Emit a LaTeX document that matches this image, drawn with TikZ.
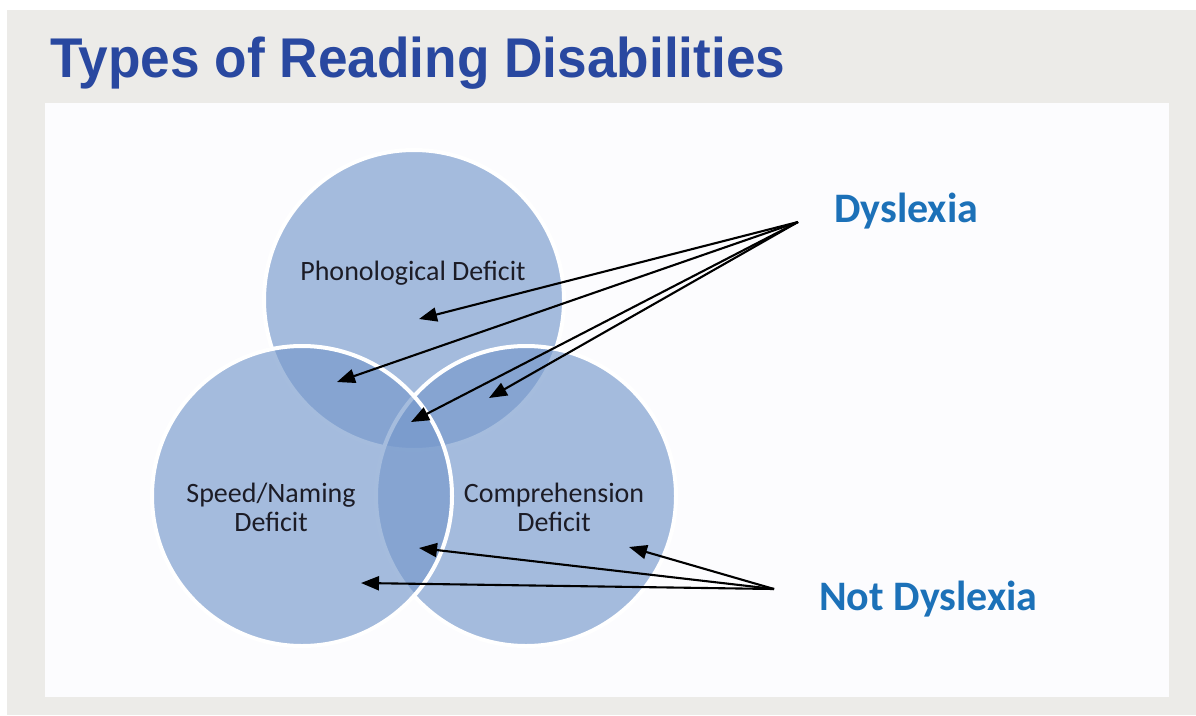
\documentclass[tikz,border=0pt]{standalone}
\usepackage{fontspec}
\setmainfont{Carlito}
\newfontfamily\titlefont{Liberation Sans}
\usetikzlibrary{arrows.meta}

\definecolor{bggray}{RGB}{236,235,232}
\definecolor{panelwhite}{RGB}{252,252,254}
\definecolor{titleblue}{RGB}{41,72,160}
\definecolor{labelblue}{RGB}{28,113,184}
\definecolor{vennblue}{RGB}{118,153,204}
\definecolor{ink}{RGB}{28,28,38}

\begin{document}
\begin{tikzpicture}[x=1pt,y=-1pt,
  setcircle/.style={circle, minimum size=300pt, inner sep=0pt,
    fill=vennblue, fill opacity=0.65, draw=white, line width=4pt},
  setlabel/.style={font=\fontsize{28}{29}\selectfont, text=ink,
    align=center, inner sep=0pt},
  grouplabel/.style={font=\fontsize{42}{45}\selectfont\bfseries,
    text=labelblue, inner sep=0pt},
  pointer/.style={draw=black, line width=2.1pt,
    -{Triangle[length=18pt,width=14pt]}}]

  % page, grey frame and white slide area
  \useasboundingbox (0,0) rectangle (1196,715);
  \fill[white] (0,0) rectangle (1196,715);
  \fill[bggray] (7,10) rectangle (1196,715);
  \fill[panelwhite] (45,103) rectangle (1169,697);

  % heading
  \node[anchor=base west, inner sep=0pt, text=titleblue] (title) at (50,77)
    {\titlefont\bfseries\fontsize{56}{60}\selectfont
     \scalebox{0.95}[1]{Types of Reading Disabilities}};

  % the three overlapping sets (top, right, left in drawing order)
  \node[setcircle] (phon) at (414,300) {};
  \node[setcircle] (comp) at (526,496) {};
  \node[setcircle] (speed) at (302,496) {};

  % set names
  \node[setlabel, anchor=base] (phonlbl) at (413,280) {Phonological Deficit};
  \node[setlabel] (speedlbl) at (271,507) {Speed/Naming\\Deficit};
  \node[setlabel] (complbl) at (554,507) {Comprehension\\Deficit};

  % group names
  \node[grouplabel, anchor=base west] (dyslbl) at (834,222) {Dyslexia};
  \node[grouplabel, anchor=base west] (notlbl) at (819,610) {Not Dyslexia};

  % arrow origins and targets
  \coordinate (dys) at (798,222);
  \coordinate (ndys) at (774,589);
  \coordinate (phonOnly) at (419,319);
  \coordinate (phonSpeed) at (337,382);
  \coordinate (phonComp) at (489,398);
  \coordinate (allThree) at (411,422);
  \coordinate (compOnly) at (629,547);
  \coordinate (speedComp) at (419,548);
  \coordinate (speedOnly) at (361,583);

  \draw[pointer] (dys) -- (phonOnly);
  \draw[pointer] (dys) -- (phonSpeed);
  \draw[pointer] (dys) -- (phonComp);
  \draw[pointer] (dys) -- (allThree);

  \draw[pointer] (ndys) -- (compOnly);
  \draw[pointer] (ndys) -- (speedComp);
  \draw[pointer] (ndys) -- (speedOnly);
\end{tikzpicture}
\end{document}
